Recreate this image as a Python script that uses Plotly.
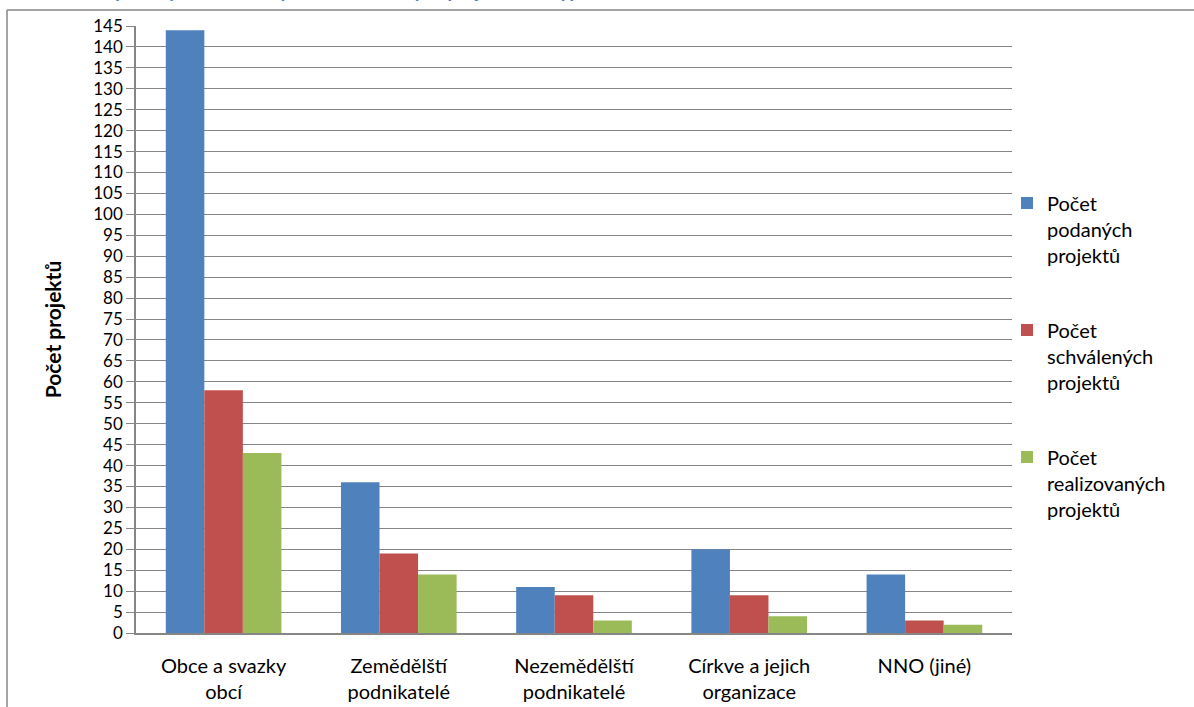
import plotly.graph_objects as go

categories = ["Obce a svazky<br>obcí", "Zemědělští<br>podnikatelé", "Nezemědělští<br>podnikatelé",
              "Církve a jejich<br>organizace", "NNO (jiné)"]
series_names = ["Počet<br>podaných<br>projektů", "Počet<br>schválených<br>projektů", "Počet<br>realizovaných<br>projektů"]
podane = [144, 36, 11, 20, 14]
schvalene = [58, 19, 9, 9, 3]
realizovane = [43, 14, 3, 4, 2]
colors = ["#4F81BD", "#C0504D", "#9BBB59"]
y_ticks = list(range(0, 150, 5))

FONT = "Lato"
fig = go.Figure()
for i, (name, vals) in enumerate(zip(series_names, [podane, schvalene, realizovane])):
    fig.add_trace(go.Bar(x=categories, y=vals, name=name, marker_color=colors[i],
                         marker_line_width=0, legendgroup=str(i)))

W, H = 1194, 707
L, R, T, B = 136, 182, 26, 74
pw, ph = W - L - R, H - T - B

fig.update_layout(
    width=W, height=H,
    margin=dict(l=L, r=R, t=T, b=B, autoexpand=False),
    paper_bgcolor="white", plot_bgcolor="white",
    barmode="group", bargap=0.34, bargroupgap=0,
    font=dict(family=FONT, size=20, color="black"),
    showlegend=True,
    legend=dict(x=(1007 - L) / pw, y=1 - (356 - T) / ph, xanchor="left", yanchor="middle",
                font=dict(family=FONT, size=20), tracegroupgap=46, valign="top",
                itemwidth=30, bgcolor="rgba(0,0,0,0)"),
    xaxis=dict(showgrid=False, showline=True, linecolor="#868686", linewidth=1.5,
               ticks="", tickfont=dict(family=FONT, size=20), ticklabelstandoff=14),
    yaxis=dict(range=[0, 145], tickvals=y_ticks, showgrid=True, gridcolor="#868686",
               gridwidth=1, showline=True, linecolor="#868686", linewidth=1.5,
               ticks="outside", ticklen=8, tickcolor="#868686",
               tickfont=dict(family=FONT, size=17), zeroline=False,
               title=dict(text="<b>Počet projektů</b>", font=dict(family=FONT, size=21), standoff=26)),
)

# outer chart border
x_left = (7 - L) / pw
y_top = 1 + (T - 10) / ph
fig.add_shape(type="line", xref="paper", yref="paper", x0=x_left, x1=x_left, y0=-1, y1=y_top,
              line=dict(color="#868686", width=1.5))
fig.add_shape(type="line", xref="paper", yref="paper", x0=x_left, x1=2, y0=y_top, y1=y_top,
              line=dict(color="#868686", width=1.5))

# caption above the chart, mostly clipped by the page edge as in the source
fig.add_annotation(xref="paper", yref="paper", x=(0 - L) / pw, y=1 + (T - 3) / ph,
                   xanchor="left", yanchor="bottom", showarrow=False,
                   text="<b><i>Graf 1: Počet podaných, schválených a realizovaných projektů dle typu žadatele v letech 2007–2013</i></b>",
                   font=dict(family=FONT, size=20, color="#4F81BD"))

fig.write_html("out.html", config={"displayModeBar": False},
               post_script="document.body.style.margin='0';")
